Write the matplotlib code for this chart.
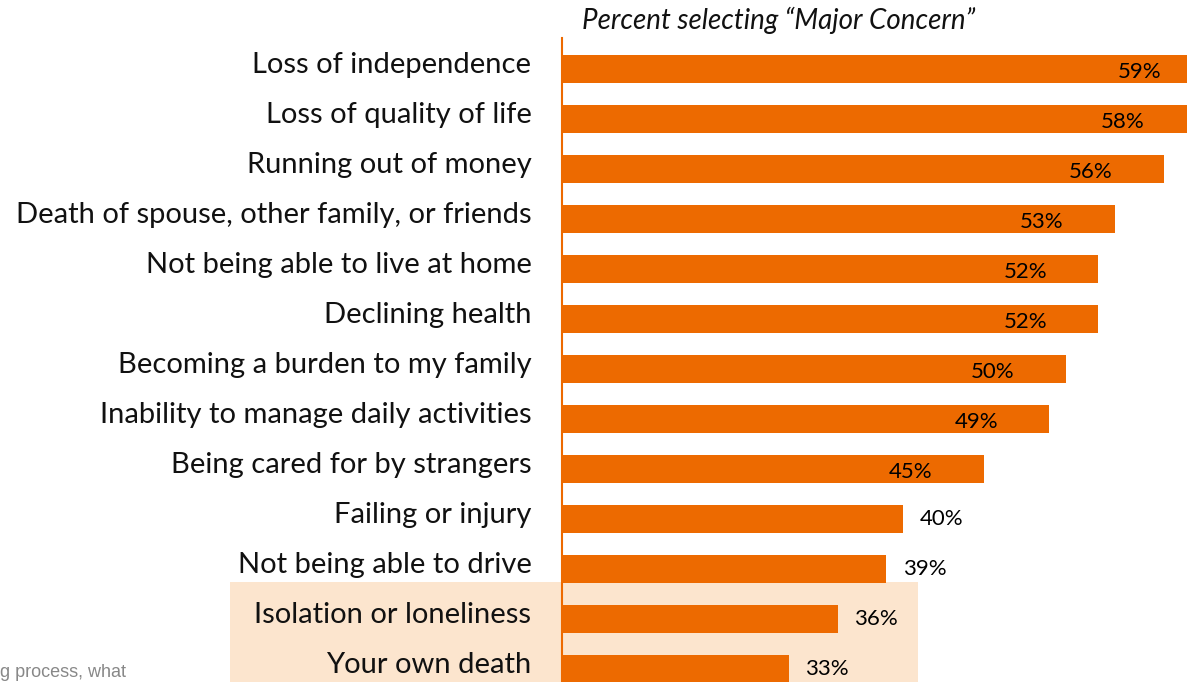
import matplotlib
matplotlib.use("Agg")
import matplotlib.pyplot as plt
from matplotlib.patches import Rectangle
from matplotlib.transforms import blended_transform_factory

plt.rcParams['font.family'] = ['Lato', 'DejaVu Sans']

concerns = ["Loss of independence", "Loss of quality of life", "Running out of money",
            "Death of spouse, other family, or friends", "Not being able to live at home",
            "Declining health", "Becoming a burden to my family",
            "Inability to manage daily activities", "Being cared for by strangers",
            "Failing or injury", "Not being able to drive", "Isolation or loneliness",
            "Your own death"]
pct = [59, 58, 56, 53, 52, 52, 50, 49, 45, 40, 39, 36, 33]
label_inside = [True] * 9 + [False] * 4

orange = "#ED6A00"
W, H = 1187, 682
fig = plt.figure(figsize=(W / 100, H / 100), dpi=100)
# axes starts at the orange line (x=562px) and runs past the right edge
ax = fig.add_axes([562 / W, 0, (1250 - 562) / W, (H - 38) / H])
ax.set_facecolor("none")

pos = list(range(len(pct)))
ax.barh(pos, pct, height=0.56, color=orange, zorder=2)
ax.set_xlim(19.1, 61.3)
ax.set_ylim(12.26, -0.62)

for i, v in enumerate(pct):
    if label_inside[i]:
        ax.annotate(f"{v}%", (v, i), xytext=(-37, -2), textcoords="offset points",
                    ha="right", va="center", fontsize=16, color="black")
    else:
        ax.annotate(f"{v}%", (v, i), xytext=(12, 0), textcoords="offset points",
                    ha="left", va="center", fontsize=16, color="black")
    ax.annotate(concerns[i], (0, i), xycoords=("axes fraction", "data"),
                xytext=(-22, 3), textcoords="offset points",
                ha="right", va="center", fontsize=21, color="#111111",
                annotation_clip=False)

ax.set_xticks([])
ax.set_yticks([])
for s in ["top", "right", "bottom"]:
    ax.spines[s].set_visible(False)
ax.spines["left"].set_color(orange)
ax.spines["left"].set_linewidth(1.5)

# highlight behind the last two rows
tr = blended_transform_factory(fig.transFigure, ax.transData)
fig.add_artist(Rectangle((230 / W, 10.26), (918 - 230) / W, 3, transform=tr,
                         facecolor="#FCE5CE", edgecolor="none", zorder=-1))

fig.text(582 / W, 1 - 20 / H, "Percent selecting \u201cMajor Concern\u201d",
         style="italic", fontsize=20, ha="left", va="center", color="#111111")
fig.text(0.0, 0.002, "g process, what", fontsize=13, color="#888888",
         ha="left", va="bottom", family=["Liberation Sans", "DejaVu Sans"])

fig.savefig("out.png", dpi=100)
